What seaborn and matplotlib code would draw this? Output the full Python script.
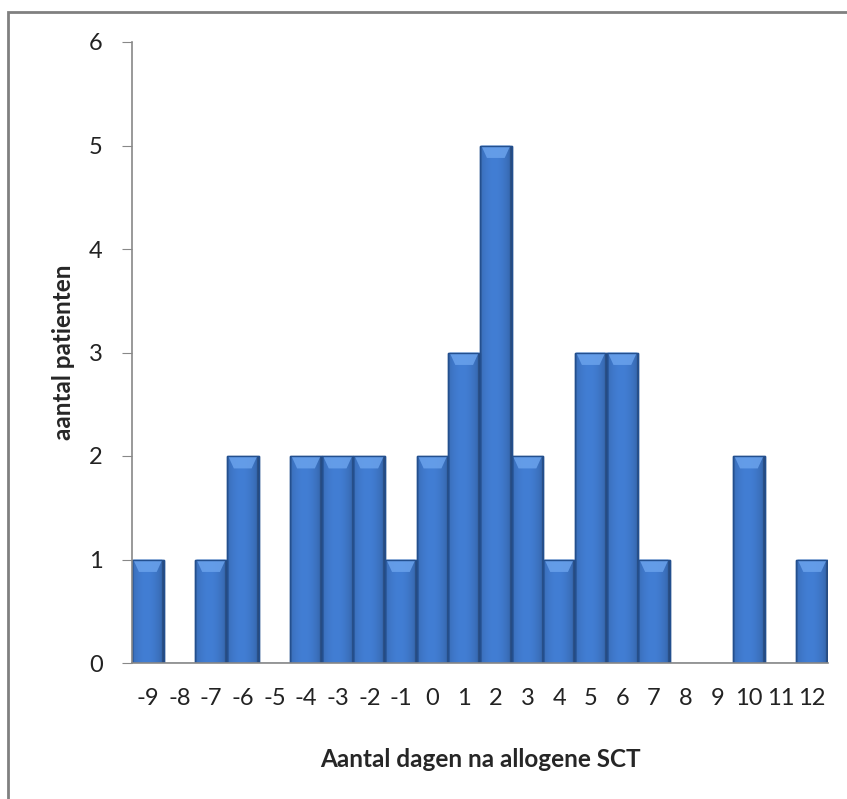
import matplotlib
matplotlib.use("Agg")
import matplotlib.pyplot as plt
import numpy as np
import pandas as pd
import seaborn as sns

# days relative to allogeneic SCT and number of patients
days = [-9, -8, -7, -6, -5, -4, -3, -2, -1, 0, 1, 2, 3, 4, 5, 6, 7, 8, 9, 10, 11, 12]
patients = [1, 0, 1, 2, 0, 2, 2, 2, 1, 2, 3, 5, 2, 1, 3, 3, 1, 0, 0, 2, 0, 1]
y_ticks = [0, 1, 2, 3, 4, 5, 6]

df = pd.DataFrame({"dag": [str(d) for d in days], "aantal": patients})

sns.set_style("white")
plt.rcParams["font.family"] = ["Lato", "DejaVu Sans"]

fig = plt.figure(figsize=(8.47, 7.99), dpi=100)
ax = fig.add_axes([132 / 847, 1 - 663 / 799, (828 - 132) / 847, (663 - 42) / 799])

sns.barplot(data=df, x="dag", y="aantal", color="#3F7AD0", width=1.0,
            edgecolor="#234F8E", linewidth=1.0, saturation=1, ax=ax)

# cylinder-like shading on each bar
grad = np.linspace(0, 1, 64)
shade = 1 - 0.7 * np.abs(grad - 0.45) ** 2
shade[:3] *= 0.8
shade[-4:] *= 0.75
base = np.array([0x42, 0x7E, 0xD4]) / 255
img = np.clip(base[None, None, :] * shade[None, :, None], 0, 1)
for p in ax.patches:
    h = p.get_height()
    if h <= 0:
        continue
    x0, w = p.get_x(), p.get_width()
    im = ax.imshow(img, extent=[x0, x0 + w, 0, h], aspect="auto", zorder=p.get_zorder(),
                   interpolation="bilinear")
    im.set_clip_path(p)
    # light bevel at the top
    ax.fill([x0 + 0.04 * w, x0 + 0.96 * w, x0 + 0.78 * w, x0 + 0.22 * w],
            [h, h, h - 0.12, h - 0.12], color="#6AA2EC", lw=0, alpha=0.85,
            zorder=p.get_zorder() + 0.5)
    ax.add_patch(plt.Rectangle((x0, 0), w, h, fill=False, edgecolor="#234F8E", lw=1.0,
                               zorder=p.get_zorder() + 1))

ax.set_xlim(-0.5, len(days) - 0.5)
ax.set_ylim(0, 6)
ax.set_yticks(y_ticks)
ax.tick_params(axis="y", length=7, color="#888888", labelsize=17, pad=14, left=True,
               labelcolor="#222222")
ax.tick_params(axis="x", length=0, labelsize=17, pad=18, labelcolor="#222222")
for s in ["top", "right"]:
    ax.spines[s].set_visible(False)
for s in ["left", "bottom"]:
    ax.spines[s].set_color("#888888")
    ax.spines[s].set_linewidth(1.2)

ax.set_xlabel("Aantal dagen na allogene SCT", fontsize=17.5, fontweight="bold", labelpad=28)
ax.set_ylabel("aantal patienten", fontsize=17.5, fontweight="bold", labelpad=10)

# outer chart frame
fig.patches.append(plt.Rectangle((8 / 847, -0.1), 1.1, 1 - 12 / 799 + 0.1, transform=fig.transFigure,
                                 fill=False, edgecolor="#808080", lw=2))

fig.savefig("out.png", dpi=100)
